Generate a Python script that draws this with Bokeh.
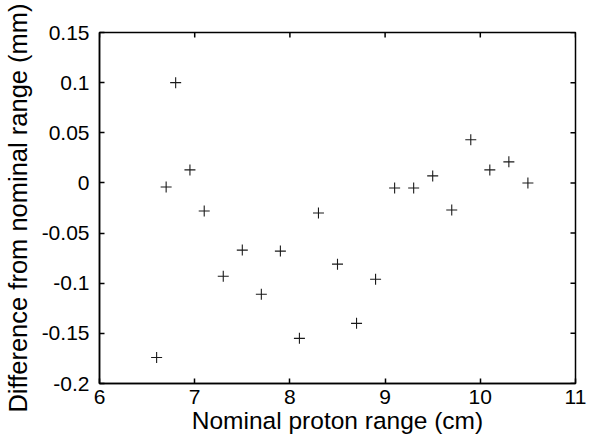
import math
from bokeh.plotting import figure
from bokeh.models import FixedTicker, Range1d
from bokeh.embed import file_html
from bokeh.resources import INLINE

# Data
nominal_range_cm = [6.6, 6.7, 6.8, 6.95, 7.1, 7.3, 7.5, 7.7, 7.9, 8.1, 8.3,
                    8.5, 8.7, 8.9, 9.1, 9.3, 9.5, 9.7, 9.9, 10.1, 10.3, 10.5]
difference_mm = [-0.174, -0.004, 0.100, 0.013, -0.028, -0.093, -0.067, -0.111,
                 -0.068, -0.155, -0.030, -0.081, -0.140, -0.096, -0.005, -0.005,
                 0.007, -0.027, 0.043, 0.013, 0.021, 0.000]

x_ticks = [6, 7, 8, 9, 10, 11]
x_tick_labels = ["6", "7", "8", "9", "10", "11"]
y_ticks = [-0.2, -0.15, -0.1, -0.05, 0, 0.05, 0.1, 0.15]
y_tick_labels = ["-0.2", "-0.15", "-0.1", "-0.05", "0", "0.05", "0.1", "0.15"]

X_MIN, X_MAX = x_ticks[0], x_ticks[-1]
Y_MIN, Y_MAX = y_ticks[0], y_ticks[-1]

FONT = "Liberation Sans"

p = figure(width=589, height=439, output_backend="svg", toolbar_location=None,
           x_range=Range1d(X_MIN, X_MAX), y_range=Range1d(Y_MIN, Y_MAX),
           min_border_left=97, min_border_right=14, min_border_top=32,
           min_border_bottom=56, x_axis_label="Nominal proton range (cm)",
           y_axis_label="Difference from nominal range (mm)")

p.background_fill_color = "white"
p.border_fill_color = "white"
p.xgrid.visible = False
p.ygrid.visible = False
p.outline_line_color = "black"
p.outline_line_width = 1.5

p.scatter(nominal_range_cm, difference_mm, marker="cross", size=11,
          line_color="#1a1a1a", line_width=1.1)

# mirrored inward ticks on the top and right edges (clipped to the frame)
p.scatter(x_ticks, [Y_MAX] * len(x_ticks), marker="dash", size=10,
          angle=math.pi / 2, line_color="black", line_width=1.5)
p.scatter([X_MAX] * len(y_ticks), y_ticks, marker="dash", size=10,
          line_color="black", line_width=1.5)

def style_axis(ax, ticks, labels):
    ax.ticker = FixedTicker(ticks=ticks)
    ax.major_label_overrides = {t: l for t, l in zip(ticks, labels)}
    ax.minor_tick_line_color = None
    ax.major_tick_in = 5
    ax.major_tick_out = 0
    ax.major_tick_line_color = "black"
    ax.major_tick_line_width = 1.5
    ax.axis_line_color = "black"
    ax.axis_line_width = 1.5
    ax.major_label_text_font = FONT
    ax.major_label_text_color = "black"
    ax.major_label_text_font_size = "21px"
    ax.axis_label_text_font = FONT
    ax.axis_label_text_font_style = "normal"
    ax.axis_label_text_color = "black"

xa = p.xaxis[0]
style_axis(xa, x_ticks, x_tick_labels)
xa.major_label_standoff = 6
xa.axis_label_text_font_size = "24.5px"
xa.axis_label_standoff = 0

ya = p.yaxis[0]
style_axis(ya, y_ticks, y_tick_labels)
ya.major_label_standoff = 10
ya.axis_label_text_font_size = "25.5px"
ya.axis_label_standoff = 7

open("out.html", "w").write(file_html(p, INLINE))
